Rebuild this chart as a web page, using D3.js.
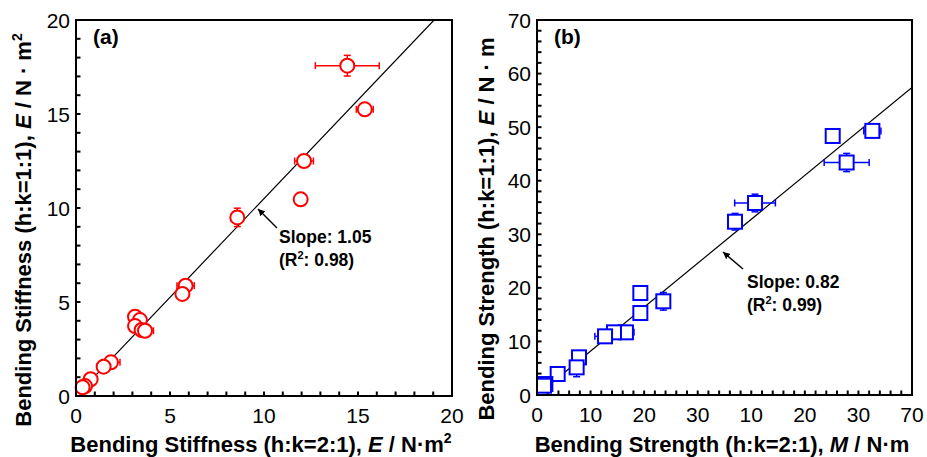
<!DOCTYPE html>
<html>
<head>
<meta charset="utf-8">
<script src="https://cdn.jsdelivr.net/npm/d3@7"></script>
<style>
  body { margin: 0; background: #fff; }
  svg { display: block; font-family: "Liberation Sans", Arial, sans-serif; }
</style>
</head>
<body>
<svg id="chart" width="927" height="457"></svg>
<script>
// Panel (a): bending stiffness, h:k=2:1 (x) vs h:k=1:1 (y)
const stiffX    = [14.43, 15.36, 12.13, 11.95, 8.58, 5.83, 5.66, 3.14, 3.40, 3.14, 3.49, 3.67, 1.86, 1.47, 0.78, 0.48, 0.35];
const stiffY    = [17.57, 15.25, 12.50, 10.46, 9.50, 5.87, 5.43, 4.22, 4.04, 3.72, 3.51, 3.47, 1.79, 1.56, 0.89, 0.53, 0.46];
const stiffXErr = [1.70, 0.45, 0.50, 0, 0, 0.46, 0, 0, 0, 0, 0, 0.45, 0.48, 0, 0, 0, 0];
const stiffYErr = [0.55, 0, 0, 0, 0.49, 0, 0, 0, 0, 0, 0, 0, 0, 0, 0, 0, 0];

// Panel (b): bending strength
const strX    = [62.6, 55.2, 57.8, 40.7, 36.96, 19.29, 23.58, 19.29, 16.6, 14.37, 12.7, 7.84, 7.4, 3.86, 1.56, 1.31];
const strY    = [49.3, 48.35, 43.4, 35.84, 32.35, 19.04, 17.49, 15.3, 11.7, 11.7, 10.95, 7.03, 5.16, 3.92, 2.05, 1.74];
const strXErr = [1.6, 0, 4.2, 3.8, 0, 0, 0, 0, 1.5, 0, 1.9, 0, 0, 0, 0, 0];
const strYErr = [0.3, 0, 1.7, 1.65, 1.55, 0, 1.65, 0, 0, 0, 0, 0, 1.75, 0, 0, 0];

const stiffTicks = [0, 5, 10, 15, 20];
const stiffTickLabels = ["0", "5", "10", "15", "20"];
const strYTicks = [0, 10, 20, 30, 40, 50, 60, 70];
const strYTickLabels = ["0", "10", "20", "30", "40", "50", "60", "70"];
const strXTickLabels = ["0", "10", "20", "30", "10", "20", "30", "70"]; // as printed

const svg = d3.select('#chart');

function drawPanel(cfg) {
    const g = svg.append('g').attr('transform', `translate(${cfg.left},${cfg.top})`);
    const x = d3.scaleLinear().domain(cfg.domain).range([0, cfg.size]);
    const y = d3.scaleLinear().domain(cfg.domain).range([cfg.size, 0]);

    // Minor + major ticks, pointing inward
    const minor = d3.range(cfg.domain[0], cfg.domain[1] + 1e-9, cfg.minorStep);
    g.append('g').selectAll('line').data(minor).join('line')
        .attr('x1', d => x(d)).attr('x2', d => x(d))
        .attr('y1', cfg.size).attr('y2', cfg.size - 4.5)
        .attr('stroke', '#000').attr('stroke-width', 2);
    g.append('g').selectAll('line').data(minor).join('line')
        .attr('y1', d => y(d)).attr('y2', d => y(d))
        .attr('x1', 0).attr('x2', 4.5)
        .attr('stroke', '#000').attr('stroke-width', 2);

    // Tick labels
    g.append('g').selectAll('text').data(cfg.xTicks).join('text')
        .attr('x', d => x(d)).attr('y', cfg.size + 27)
        .attr('text-anchor', 'middle').attr('font-size', 21)
        .text((d, i) => cfg.xLabels[i]);
    g.append('g').selectAll('text').data(cfg.yTicks).join('text')
        .attr('x', -6).attr('y', d => y(d)).attr('dy', '0.36em')
        .attr('text-anchor', 'end').attr('font-size', 21)
        .text((d, i) => cfg.yLabels[i]);

    // Fit line
    const clip = 'clip-' + cfg.name;
    g.append('clipPath').attr('id', clip).append('rect')
        .attr('width', cfg.size).attr('height', cfg.size);
    const xEnd = Math.min(cfg.domain[1], cfg.domain[1] / cfg.slope);
    g.append('line')
        .attr('clip-path', `url(#${clip})`)
        .attr('x1', x(cfg.lineStart)).attr('y1', y(cfg.lineStart * cfg.slope))
        .attr('x2', x(xEnd)).attr('y2', y(xEnd * cfg.slope))
        .attr('stroke', '#000').attr('stroke-width', 1.2);

    const pts = cfg.xs.map((v, i) => ({ x: v, y: cfg.ys[i], ex: cfg.xErr[i], ey: cfg.yErr[i] }));

    // Error bars
    const eb = g.append('g').attr('stroke', cfg.color).attr('stroke-width', 1.5);
    pts.filter(p => p.ex > 0).forEach(p => {
        eb.append('line').attr('x1', x(p.x - p.ex)).attr('x2', x(p.x + p.ex)).attr('y1', y(p.y)).attr('y2', y(p.y));
        [p.x - p.ex, p.x + p.ex].forEach(v => eb.append('line')
            .attr('x1', x(v)).attr('x2', x(v)).attr('y1', y(p.y) - 3.5).attr('y2', y(p.y) + 3.5));
    });
    pts.filter(p => p.ey > 0).forEach(p => {
        eb.append('line').attr('y1', y(p.y - p.ey)).attr('y2', y(p.y + p.ey)).attr('x1', x(p.x)).attr('x2', x(p.x));
        [p.y - p.ey, p.y + p.ey].forEach(v => eb.append('line')
            .attr('y1', y(v)).attr('y2', y(v)).attr('x1', x(p.x) - 3.5).attr('x2', x(p.x) + 3.5));
    });

    // Markers
    const mk = g.append('g').attr('fill', '#fff').attr('stroke', cfg.color).attr('stroke-width', 2);
    if (cfg.marker === 'circle') {
        mk.selectAll('circle').data(pts).join('circle')
            .attr('cx', d => x(d.x)).attr('cy', d => y(d.y)).attr('r', 7);
    } else {
        mk.selectAll('rect').data(pts).join('rect')
            .attr('x', d => x(d.x) - 7).attr('y', d => y(d.y) - 7)
            .attr('width', 14).attr('height', 14);
    }

    // Frame
    g.append('rect').attr('width', cfg.size).attr('height', cfg.size)
        .attr('fill', 'none').attr('stroke', '#000').attr('stroke-width', 2);

    // Panel tag
    g.append('text').attr('x', 17).attr('y', 24).attr('font-size', 21).attr('font-weight', 'bold')
        .text(cfg.tag);

    // Annotation with arrow
    const ann = cfg.ann;
    g.append('line')
        .attr('x1', ann.tail[0] - cfg.left).attr('y1', ann.tail[1] - cfg.top)
        .attr('x2', ann.tip[0] - cfg.left).attr('y2', ann.tip[1] - cfg.top)
        .attr('stroke', '#000').attr('stroke-width', 1.5)
        .attr('marker-end', 'url(#arrow)');
    const t = g.append('text').attr('font-size', 17.5).attr('font-weight', 'bold')
        .attr('x', ann.text[0] - cfg.left).attr('y', ann.text[1] - cfg.top);
    t.append('tspan').text(`Slope: ${cfg.slope.toFixed(2)}`);
    const t2 = g.append('text').attr('font-size', 17.5).attr('font-weight', 'bold')
        .attr('x', ann.text[0] - cfg.left).attr('y', ann.text[1] - cfg.top + 23);
    t2.append('tspan').text('(R');
    t2.append('tspan').attr('font-size', 11).attr('dy', -7).text('2');
    t2.append('tspan').attr('dy', 7).text(`: ${cfg.r2.toFixed(2)})`);

    // Axis titles
    const xt = svg.append('text').attr('font-size', 22).attr('font-weight', 'bold')
        .attr('text-anchor', 'middle').attr('x', cfg.xTitlePos[0]).attr('y', cfg.xTitlePos[1]);
    cfg.xTitle.forEach(s => {
        const sp = xt.append('tspan').text(s.t);
        if (s.i) sp.attr('font-style', 'italic');
        if (s.sup) sp.attr('font-size', 14).attr('dy', -9);
    });
    const yt = svg.append('text').attr('font-size', 22).attr('font-weight', 'bold')
        .attr('text-anchor', 'middle')
        .attr('transform', `translate(${cfg.yTitlePos[0]},${cfg.yTitlePos[1]}) rotate(-90)`);
    cfg.yTitle.forEach(s => {
        const sp = yt.append('tspan').text(s.t);
        if (s.i) sp.attr('font-style', 'italic');
        if (s.sup) sp.attr('font-size', 14).attr('dy', -9);
    });
}

svg.append('defs').append('marker')
    .attr('id', 'arrow').attr('viewBox', '0 0 10 10')
    .attr('refX', 10).attr('refY', 5)
    .attr('markerWidth', 7).attr('markerHeight', 7)
    .attr('markerUnits', 'userSpaceOnUse')
    .attr('orient', 'auto')
    .append('path').attr('d', 'M0,0 L10,5 L0,10 z').attr('fill', '#000');

drawPanel({
    name: 'a', left: 76, top: 20, size: 376, domain: [0, 20], minorStep: 1,
    xTicks: stiffTicks, xLabels: stiffTickLabels, yTicks: stiffTicks, yLabels: stiffTickLabels,
    xs: stiffX, ys: stiffY, xErr: stiffXErr, yErr: stiffYErr,
    color: '#ff0000', marker: 'circle', slope: 1.05, r2: 0.98, lineStart: 0.3, tag: '(a)',
    ann: { tip: [258, 209], tail: [277, 228], text: [279, 243] },
    xTitlePos: [261, 452], yTitlePos: [31, 230],
    xTitle: [{ t: 'Bending Stiffness (h:k=2:1), ' }, { t: 'E', i: true }, { t: ' / N·m' }, { t: '2', sup: true }],
    yTitle: [{ t: 'Bending Stiffness (h:k=1:1), ' }, { t: 'E', i: true }, { t: ' / N · m' }, { t: '2', sup: true }],
});

drawPanel({
    name: 'b', left: 537, top: 20, size: 375, domain: [0, 70], minorStep: 2,
    xTicks: strYTicks, xLabels: strXTickLabels, yTicks: strYTicks, yLabels: strYTickLabels,
    xs: strX, ys: strY, xErr: strXErr, yErr: strYErr,
    color: '#0000ff', marker: 'square', slope: 0.82, r2: 0.99, lineStart: 2, tag: '(b)',
    ann: { tip: [723, 252], tail: [743, 269], text: [747, 288] },
    xTitlePos: [722, 452], yTitlePos: [494, 229],
    xTitle: [{ t: 'Bending Strength (h:k=2:1), ' }, { t: 'M', i: true }, { t: ' / N·m' }],
    yTitle: [{ t: 'Bending Strength (h:k=1:1), ' }, { t: 'E', i: true }, { t: ' / N · m' }],
});
</script>
</body>
</html>
